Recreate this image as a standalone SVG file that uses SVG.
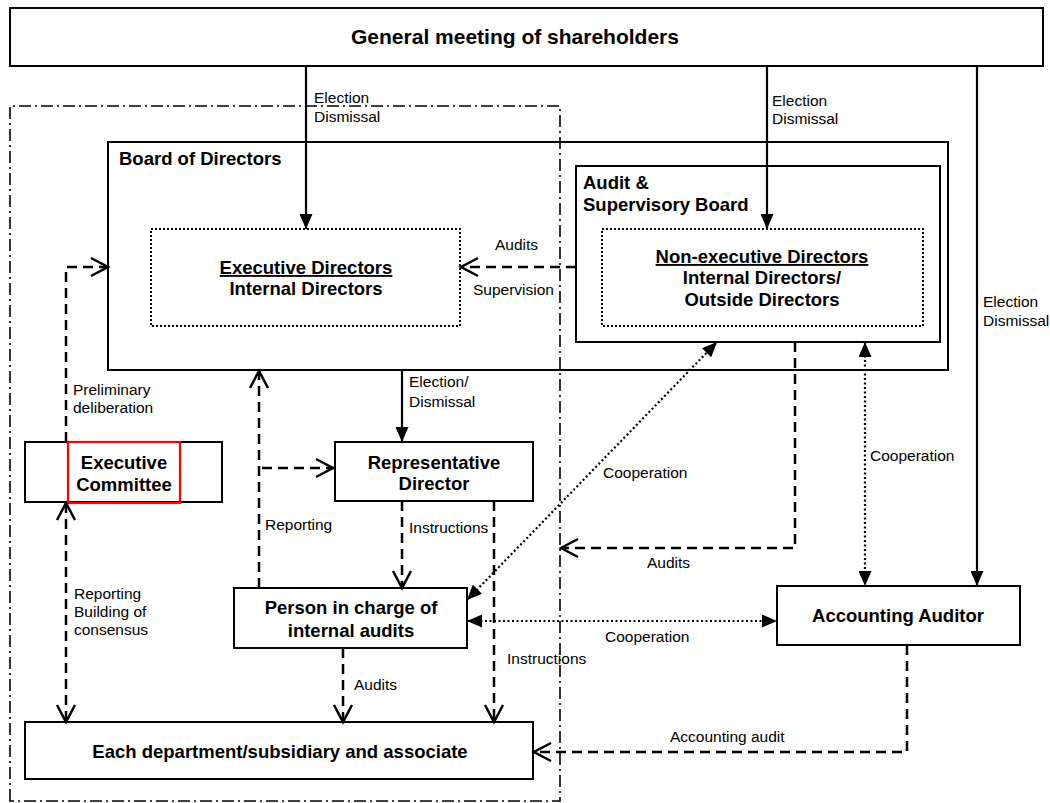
<svg xmlns="http://www.w3.org/2000/svg" width="1050" height="803" viewBox="0 0 1050 803">
<style>
text{font-family:"Liberation Sans",Arial,sans-serif;fill:#000}
.b{font-weight:bold;font-size:18.5px}
.c{text-anchor:middle}
.l{font-size:15.5px}
.u{text-decoration:underline}
.box{fill:none;stroke:#000;stroke-width:2}
.dotbox{fill:none;stroke:#000;stroke-width:2;stroke-dasharray:2,2}
.solid{fill:none;stroke:#000;stroke-width:2.2}
.dash{fill:none;stroke:#000;stroke-width:2.5;stroke-dasharray:10,6}
.dot{fill:none;stroke:#000;stroke-width:2.2;stroke-dasharray:2,2.5}
.dd{fill:none;stroke:#000;stroke-width:1.6;stroke-dasharray:12,4,2,4}
</style>
<defs>
<marker id="tri" markerUnits="userSpaceOnUse" markerWidth="15" markerHeight="13" refX="15" refY="6.5" orient="auto-start-reverse" viewBox="0 0 15 13"><path d="M0,0 L15,6.5 L0,13 z" fill="#000"/></marker>
<marker id="vee" markerUnits="userSpaceOnUse" markerWidth="22" markerHeight="24" refX="18" refY="11" orient="auto-start-reverse" viewBox="0 0 22 22"><path d="M1,2 L18,11 L1,20" fill="none" stroke="#000" stroke-width="2.5"/></marker>
</defs>

<g id="boundary">
<path class="dd" d="M10,801 L10,106 L560,106 L560,801 Z"/>
</g>

<g id="gms">
<rect class="box" x="10" y="8" width="1033" height="58"/>
<text class="b c" x="515" y="44" style="font-size:21px">General meeting of shareholders</text>
</g>

<g id="board">
<rect class="box" x="108" y="142" width="840" height="228"/>
<text class="b" x="119" y="165">Board of Directors</text>
</g>

<g id="exec-directors">
<rect class="dotbox" x="151" y="229" width="309" height="97"/>
<text class="b c u" x="306" y="274">Executive Directors</text>
<text class="b c" x="306" y="295">Internal Directors</text>
</g>

<g id="audit-board">
<rect class="box" x="576" y="166" width="364" height="176"/>
<text class="b" x="583" y="189">Audit &amp;</text>
<text class="b" x="583" y="211">Supervisory Board</text>
</g>

<g id="nonexec-directors">
<rect class="dotbox" x="602" y="229" width="321" height="97"/>
<text class="b c u" x="762" y="263">Non-executive Directors</text>
<text class="b c" x="762" y="284">Internal Directors/</text>
<text class="b c" x="762" y="306">Outside Directors</text>
</g>

<g id="exec-committee">
<rect class="box" x="25" y="442" width="197" height="60"/>
<rect x="68" y="442" width="112" height="61" fill="none" stroke="#ff0000" stroke-width="2.2"/>
<text class="b c" x="124" y="469">Executive</text>
<text class="b c" x="124" y="491">Committee</text>
</g>

<g id="rep-director">
<rect class="box" x="335" y="442" width="198" height="59"/>
<text class="b c" x="434" y="469">Representative</text>
<text class="b c" x="434" y="490">Director</text>
</g>

<g id="internal-audit">
<rect class="box" x="234" y="588" width="233" height="60"/>
<text class="b c" x="351" y="614">Person in charge of</text>
<text class="b c" x="351" y="637">internal audits</text>
</g>

<g id="accounting-auditor">
<rect class="box" x="777" y="586" width="243" height="59"/>
<text class="b c" x="898" y="622">Accounting Auditor</text>
</g>

<g id="departments">
<rect class="box" x="25" y="722" width="508" height="57"/>
<text class="b c" x="280" y="758">Each department/subsidiary and associate</text>
</g>

<g id="connectors">
<path class="solid" d="M306,66 L306,229" marker-end="url(#tri)"/>
<path class="solid" d="M767,66 L767,229" marker-end="url(#tri)"/>
<path class="solid" d="M977,66 L977,586" marker-end="url(#tri)"/>
<path class="solid" d="M402,370 L402,442" marker-end="url(#tri)"/>
<path class="dash" d="M576,267 L461,267" marker-end="url(#vee)"/>
<path class="dash" d="M66,442 L66,267 L108,267" marker-end="url(#vee)"/>
<path class="dash" d="M66,503 L66,722" marker-start="url(#vee)" marker-end="url(#vee)"/>
<path class="dash" d="M259,588 L259,371" marker-end="url(#vee)"/>
<path class="dash" d="M262,468 L333,468" marker-end="url(#vee)"/>
<path class="dash" d="M402,501 L402,588" marker-end="url(#vee)"/>
<path class="dash" d="M494,501 L494,722" marker-end="url(#vee)"/>
<path class="dash" d="M343,648 L343,722" marker-end="url(#vee)"/>
<path class="dash" d="M795,342 L795,548 L561,548" marker-end="url(#vee)"/>
<path class="dash" d="M907,645 L907,752 L534,752" marker-end="url(#vee)"/>
<path class="dot" d="M467,600 L717,342" marker-start="url(#tri)" marker-end="url(#tri)"/>
<path class="dot" d="M467,621 L777,621" marker-start="url(#tri)" marker-end="url(#tri)"/>
<path class="dot" d="M865,342 L865,586" marker-start="url(#tri)" marker-end="url(#tri)"/>
</g>

<g id="labels" class="l">
<text class="l" x="314" y="103">Election</text>
<text class="l" x="314" y="122">Dismissal</text>
<text class="l" x="772" y="106">Election</text>
<text class="l" x="772" y="124">Dismissal</text>
<text class="l" x="983" y="307">Election</text>
<text class="l" x="983" y="326">Dismissal</text>
<text class="l" x="495" y="250">Audits</text>
<text class="l" x="473" y="295">Supervision</text>
<text class="l" x="73" y="395">Preliminary</text>
<text class="l" x="73" y="413">deliberation</text>
<text class="l" x="409" y="387">Election/</text>
<text class="l" x="409" y="407">Dismissal</text>
<text class="l" x="265" y="530">Reporting</text>
<text class="l" x="74" y="599">Reporting</text>
<text class="l" x="74" y="617">Building of</text>
<text class="l" x="74" y="635">consensus</text>
<text class="l" x="603" y="478">Cooperation</text>
<text class="l" x="409" y="533">Instructions</text>
<text class="l" x="647" y="568">Audits</text>
<text class="l" x="870" y="461">Cooperation</text>
<text class="l" x="605" y="642">Cooperation</text>
<text class="l" x="507" y="664">Instructions</text>
<text class="l" x="354" y="690">Audits</text>
<text class="l" x="670" y="742">Accounting audit</text>
</g>
</svg>
